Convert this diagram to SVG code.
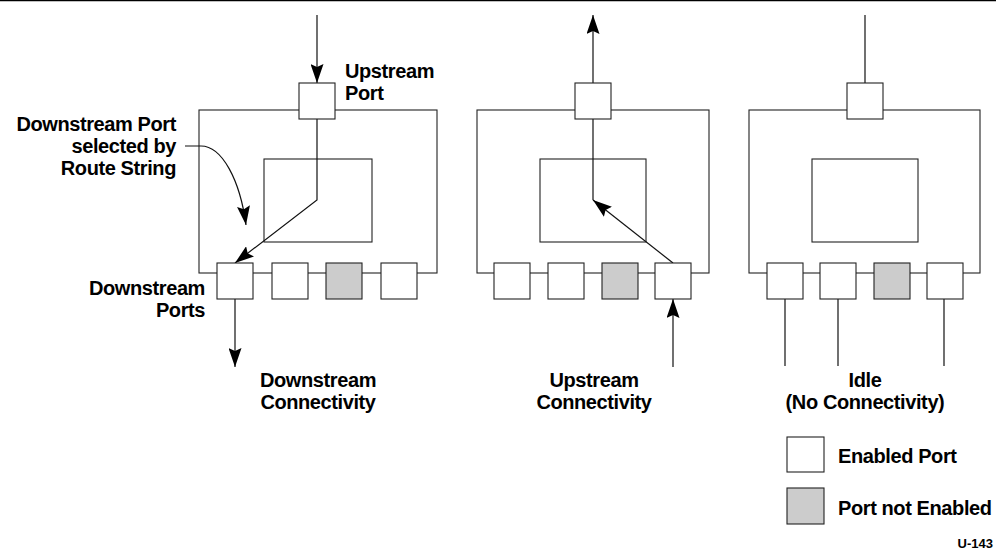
<svg xmlns="http://www.w3.org/2000/svg" width="996" height="556" viewBox="0 0 996 556">
<style>
  .box { fill: #fff; stroke: #222; stroke-width: 1.1; }
  .off { fill: #cccccc; stroke: #222; stroke-width: 1.1; }
  .frame { fill: none; stroke: #222; stroke-width: 1.1; }
  .ln { fill: none; stroke: #111; stroke-width: 1.2; }
  .t { font-family: "Liberation Sans", Arial, sans-serif; font-weight: bold; font-size: 20px; letter-spacing: -0.4px; fill: #000; }
  .r { text-anchor: end; }
  .c { text-anchor: middle; }
</style>
<defs>
  <marker id="ah" markerUnits="userSpaceOnUse" markerWidth="19" markerHeight="13" refX="19" refY="6.5" orient="auto" viewBox="0 0 19 13">
    <path d="M0,0 L19,6.5 L0,13 L3,6.5 z" fill="#000"/>
  </marker>
</defs>
<line x1="0" y1="0.6" x2="996" y2="0.6" stroke="#000" stroke-width="1.3"/>

<!-- Panel 1 -->
<g id="panel1">
  <rect class="frame" x="199" y="110" width="238" height="163"/>
  <rect class="frame" x="264" y="159" width="108" height="83"/>
</g>
<!-- Panel 2 -->
<g id="panel2">
  <rect class="frame" x="477" y="110" width="232" height="163"/>
  <rect class="frame" x="540" y="159" width="106" height="83"/>
</g>
<!-- Panel 3 -->
<g id="panel3">
  <rect class="frame" x="749" y="110" width="231" height="163"/>
  <rect class="frame" x="812" y="159" width="106" height="83"/>
</g>

<g id="connectors">
  <!-- panel 1 -->
  <path class="ln" d="M317,15 L317,83" marker-end="url(#ah)"/>
  <path class="ln" d="M317,119 L317,200 L235,263" marker-end="url(#ah)"/>
  <path class="ln" d="M235,299 L235,367" marker-end="url(#ah)"/>
  <path class="ln" d="M185,146 L201,146 C222,146 240,180 246,225" marker-end="url(#ah)"/>
  <!-- panel 2 -->
  <path class="ln" d="M593,83 L593,15" marker-end="url(#ah)"/>
  <path class="ln" d="M593,119 L593,200"/>
  <path class="ln" d="M673,263 L593,200" marker-end="url(#ah)"/>
  <path class="ln" d="M673,367 L673,299" marker-end="url(#ah)"/>
  <!-- panel 3 -->
  <path class="ln" d="M865,15 L865,83"/>
  <path class="ln" d="M785,299 L785,366"/>
  <path class="ln" d="M838,299 L838,366"/>
  <path class="ln" d="M944,299 L944,366"/>
</g>

<!-- Ports panel 1 -->
<g id="p1-up"><rect class="box" x="299" y="83" width="36" height="36"/></g>
<g id="p1-d1"><rect class="box" x="217" y="263" width="36" height="36"/></g>
<g id="p1-d2"><rect class="box" x="272" y="263" width="36" height="36"/></g>
<g id="p1-d3"><rect class="off" x="326" y="263" width="36" height="36"/></g>
<g id="p1-d4"><rect class="box" x="381" y="263" width="36" height="36"/></g>
<!-- Ports panel 2 -->
<g id="p2-up"><rect class="box" x="575" y="83" width="36" height="36"/></g>
<g id="p2-d1"><rect class="box" x="494" y="263" width="36" height="36"/></g>
<g id="p2-d2"><rect class="box" x="548" y="263" width="36" height="36"/></g>
<g id="p2-d3"><rect class="off" x="602" y="263" width="36" height="36"/></g>
<g id="p2-d4"><rect class="box" x="655" y="263" width="36" height="36"/></g>
<!-- Ports panel 3 -->
<g id="p3-up"><rect class="box" x="847" y="83" width="36" height="36"/></g>
<g id="p3-d1"><rect class="box" x="767" y="263" width="36" height="36"/></g>
<g id="p3-d2"><rect class="box" x="820" y="263" width="36" height="36"/></g>
<g id="p3-d3"><rect class="off" x="874" y="263" width="36" height="36"/></g>
<g id="p3-d4"><rect class="box" x="927" y="263" width="36" height="36"/></g>

<!-- Labels -->
<g id="lbl-upstream-port">
  <text class="t" x="345" y="78">Upstream</text>
  <text class="t" x="345" y="100">Port</text>
</g>
<g id="lbl-selected">
  <text class="t r" x="176" y="131">Downstream Port</text>
  <text class="t r" x="176" y="153">selected by</text>
  <text class="t r" x="176" y="175">Route String</text>
</g>
<g id="lbl-downstream-ports">
  <text class="t r" x="205" y="295">Downstream</text>
  <text class="t r" x="205" y="317">Ports</text>
</g>
<g id="lbl-dc">
  <text class="t c" x="318" y="387">Downstream</text>
  <text class="t c" x="318" y="409">Connectivity</text>
</g>
<g id="lbl-uc">
  <text class="t c" x="594" y="387">Upstream</text>
  <text class="t c" x="594" y="409">Connectivity</text>
</g>
<g id="lbl-idle">
  <text class="t c" x="865" y="387">Idle</text>
  <text class="t c" x="865" y="409">(No Connectivity)</text>
</g>

<!-- Legend -->
<g id="legend-enabled">
  <rect class="box" x="787" y="437" width="37" height="35"/>
  <text class="t" x="838" y="463">Enabled Port</text>
</g>
<g id="legend-disabled">
  <rect class="off" x="787" y="488" width="37" height="36"/>
  <text class="t" x="838" y="515">Port not Enabled</text>
</g>
<text class="t r" x="993" y="548" style="font-size:13px;letter-spacing:0">U-143</text>
</svg>
